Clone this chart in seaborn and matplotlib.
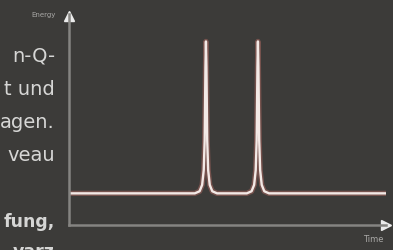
import matplotlib
matplotlib.use("Agg")
import matplotlib.pyplot as plt
import seaborn as sns

# Data (arbitrary units)

time = [0, 3.97, 4.12, 4.20, 4.25, 4.28, 4.305, 4.32, 4.335, 4.36, 4.39, 4.44, 4.52, 4.67,
        5.61, 5.76, 5.84, 5.89, 5.92, 5.945, 5.96, 5.975, 6.00, 6.03, 6.08, 6.16, 6.31, 10]
energy = [1.5, 1.5, 1.6, 1.9, 2.6, 4.0, 7.5, 8.7, 7.5, 4.0, 2.6, 1.9, 1.6, 1.5,
          1.5, 1.6, 1.9, 2.6, 4.0, 7.5, 8.7, 7.5, 4.0, 2.6, 1.9, 1.6, 1.5, 1.5]

side_lines = ["n-Q-", "t und", "agen.", "veau", "fung,", "varz"]
side_bold = [False, False, False, False, True, True]
side_baselines = [62, 95, 128, 161, 227, 257]

x_label = "Time"
y_label = "Energy"

bg = "#3c3b39"

sns.set_theme(style="white")
plt.rcParams["font.family"] = ["DejaVu Sans"]

fig = plt.figure(figsize=(3.93, 2.5), dpi=100, facecolor=bg)

# axes placed in pixel terms: left 69, bottom 225, right 386, top 14
ax = fig.add_axes([69 / 393, 25 / 250, 317 / 393, 211 / 250])
ax.set_facecolor(bg)

# glow + core line
sns.lineplot(x=time, y=energy, sort=False, estimator=None, ax=ax,
             color="#8a5a55", linewidth=3.8, alpha=0.75)
sns.lineplot(x=time, y=energy, sort=False, estimator=None, ax=ax,
             color="#f3e9e6", linewidth=1.7)

ax.set_xlim(0, 10)
ax.set_ylim(0, 10)
ax.set_xticks([])
ax.set_yticks([])
ax.set_xlabel("")
ax.set_ylabel("")

for s in ["top", "right"]:
    ax.spines[s].set_visible(False)
for s in ["left", "bottom"]:
    ax.spines[s].set_color("#858481")
    ax.spines[s].set_linewidth(1.8)

# arrow heads
ax.plot([0], [0.99], marker="^", markersize=7, color="#ececec",
        transform=ax.transAxes, clip_on=False)
ax.plot([1.0], [0], marker=">", markersize=7, color="#ececec",
        transform=ax.transAxes, clip_on=False)

fig.text(56 / 393, 1 - 15 / 250, y_label, ha="right", va="center",
         fontsize=5, color="#a9a8a6")
fig.text(384 / 393, 1 - 240 / 250, x_label, ha="right", va="center",
         fontsize=6, color="#a9a8a6")

for txt, bold, yb in zip(side_lines, side_bold, side_baselines):
    fig.text(55 / 393, 1 - yb / 250, txt, ha="right", va="baseline",
             fontsize=12.5 if bold else 14, color="#d6d6d5",
             fontweight="bold" if bold else "normal")

fig.savefig("out.png", dpi=100, facecolor=bg)
